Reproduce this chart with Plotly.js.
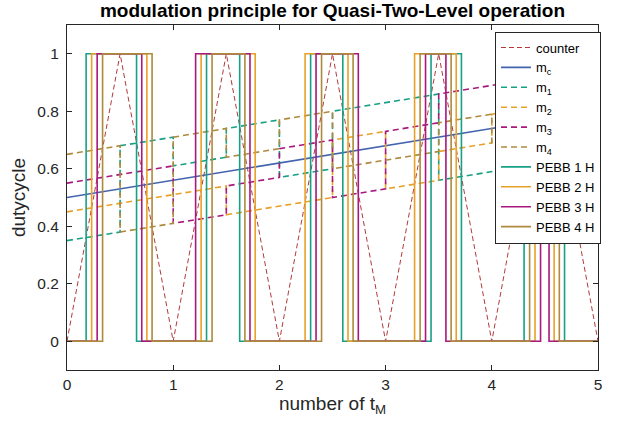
<!DOCTYPE html>
<html>
<head>
<meta charset="utf-8">
<script src="https://cdn.plot.ly/plotly-3.0.1.min.js"></script>
<style>
  html, body { margin: 0; padding: 0; background: #ffffff; }
  #chart { width: 618px; height: 430px; }
</style>
</head>
<body>
<div id="chart"></div>
<script>
// Carrier: triangular counter, one vertex every half modulation period
const counterX = [0, 0.5, 1, 1.5, 2, 2.5, 3, 3.5, 4, 4.5, 5];
const counterY = [0, 1, 0, 1, 0, 1, 0, 1, 0, 1, 0];

// Common reference duty cycle m_c (straight ramp)
const mcX = [0, 5];
const mcY = [0.5, 0.8];

// Per-PEBB offsets added to m_c, one value per half period (10 half periods)
const m1Offset = [-0.15, 0.15, 0.05, 0.15, -0.05, 0.15, 0.15, -0.15, -0.15, -0.15];
const m2Offset = [-0.05, -0.05, -0.05, -0.15, -0.15, 0.05, -0.15, -0.05, 0.05, 0.05];
const m3Offset = [0.05, 0.05, -0.15, -0.05, 0.05, -0.15, 0.05, 0.15, 0.15, 0.15];
const m4Offset = [0.15, -0.15, 0.15, 0.05, 0.15, -0.05, -0.05, 0.05, -0.05, -0.05];

// Gate signals of the high-side switches: switching instants (on, off)
const pebb1On  = [0.180, 1.314, 2.294, 3.428, 4.304];
const pebb1Off = [0.655, 1.626, 2.597, 3.714, 4.685];
const pebb2On  = [0.232, 1.263, 2.242, 3.273, 4.407];
const pebb2Off = [0.752, 1.772, 2.646, 3.665, 4.587];
const pebb3On  = [0.284, 1.211, 2.345, 3.376, 4.459];
const pebb3Off = [0.704, 1.723, 2.743, 3.568, 4.539];
const pebb4On  = [0.335, 1.366, 2.397, 3.325, 4.356];
const pebb4Off = [0.801, 1.675, 2.694, 3.617, 4.636];

const C = {
  counter: '#b23a3a',
  mc: '#4263ad',
  teal: '#17a086',
  orange: '#e8a128',
  magenta: '#a8187e',
  brown: '#ad8a3c'
};

// reference ramp value at x
function mcAt(x) {
  return mcY[0] + (mcY[1] - mcY[0]) * (x - mcX[0]) / (mcX[1] - mcX[0]);
}

// piecewise modulation signal with jumps at every half period
function modSignal(offsets) {
  const xs = [], ys = [];
  for (let k = 0; k < offsets.length; k++) {
    const a = counterX[k], b = counterX[k + 1];
    xs.push(a, b);
    ys.push(mcAt(a) + offsets[k], mcAt(b) + offsets[k]);
  }
  return { x: xs, y: ys };
}

// gate pulse train as a step line
function gate(on, off) {
  const xs = [0], ys = [0];
  for (let i = 0; i < on.length; i++) {
    xs.push(on[i], off[i]);
    ys.push(1, 0);
  }
  xs.push(5); ys.push(0);
  return { x: xs, y: ys };
}

const modDash = '6px,4px';
const traces = [
  { x: counterX, y: counterY, name: 'counter', mode: 'lines',
    line: { color: C.counter, width: 1, dash: '5px,3px' } },
  { x: mcX, y: mcY, name: 'm<sub>c</sub>', mode: 'lines',
    line: { color: C.mc, width: 1.6 } }
];
[[m1Offset, C.teal], [m2Offset, C.orange], [m3Offset, C.magenta], [m4Offset, C.brown]]
  .forEach(([off, col], i) => {
    const s = modSignal(off);
    traces.push({ x: s.x, y: s.y, name: 'm<sub>' + (i + 1) + '</sub>', mode: 'lines',
      line: { color: col, width: 1.6, dash: modDash } });
  });
[[pebb1On, pebb1Off, C.teal], [pebb2On, pebb2Off, C.orange],
 [pebb3On, pebb3Off, C.magenta], [pebb4On, pebb4Off, C.brown]]
  .forEach(([on, off, col], i) => {
    const g = gate(on, off);
    traces.push({ x: g.x, y: g.y, name: 'PEBB ' + (i + 1) + ' H', mode: 'lines',
      line: { color: col, width: 1.6, shape: 'hv' } });
  });

const axisCommon = {
  showgrid: false,
  zeroline: false,
  showline: true,
  linecolor: '#262626',
  linewidth: 1,
  mirror: 'ticks',
  ticks: 'inside',
  ticklen: 5,
  tickcolor: '#262626',
  tickfont: { family: 'Liberation Sans, Arial, sans-serif', size: 15.5, color: '#262626' }
};

const layout = {
  width: 618,
  height: 430,
  margin: { l: 67, r: 20, t: 25, b: 60 },
  paper_bgcolor: '#ffffff',
  plot_bgcolor: '#ffffff',
  font: { family: 'Liberation Sans, Arial, sans-serif', color: '#262626' },
  title: {
    text: '<b>modulation principle for Quasi-Two-Level operation</b>',
    font: { size: 19, color: '#000000' },
    xref: 'paper', x: 0.5, xanchor: 'center',
    yref: 'container', y: 0.975, yanchor: 'middle'
  },
  xaxis: Object.assign({}, axisCommon, {
    range: [0, 5],
    tickvals: [0, 1, 2, 3, 4, 5],
    ticklabelstandoff: 0,
    title: { text: 'number of t<sub>M</sub>', font: { size: 19, color: '#262626' }, standoff: 4 }
  }),
  yaxis: Object.assign({}, axisCommon, {
    range: [-0.1, 1.1],
    tickvals: [0, 0.2, 0.4, 0.6, 0.8, 1],
    ticktext: ['0', '0.2', '0.4', '0.6', '0.8', '1'],
    ticklabelstandoff: 4,
    title: { text: 'dutycycle', font: { size: 19, color: '#262626' }, standoff: 6 }
  }),
  showlegend: true,
  legend: {
    x: 1.0056, xanchor: 'right',
    y: 0.981, yanchor: 'top',
    bgcolor: '#ffffff',
    bordercolor: '#262626',
    borderwidth: 1,
    font: { size: 13, color: '#000000' },
    tracegroupgap: 0
  }
};

Plotly.newPlot('chart', traces, layout, { staticPlot: true, displayModeBar: false });
</script>
</body>
</html>
